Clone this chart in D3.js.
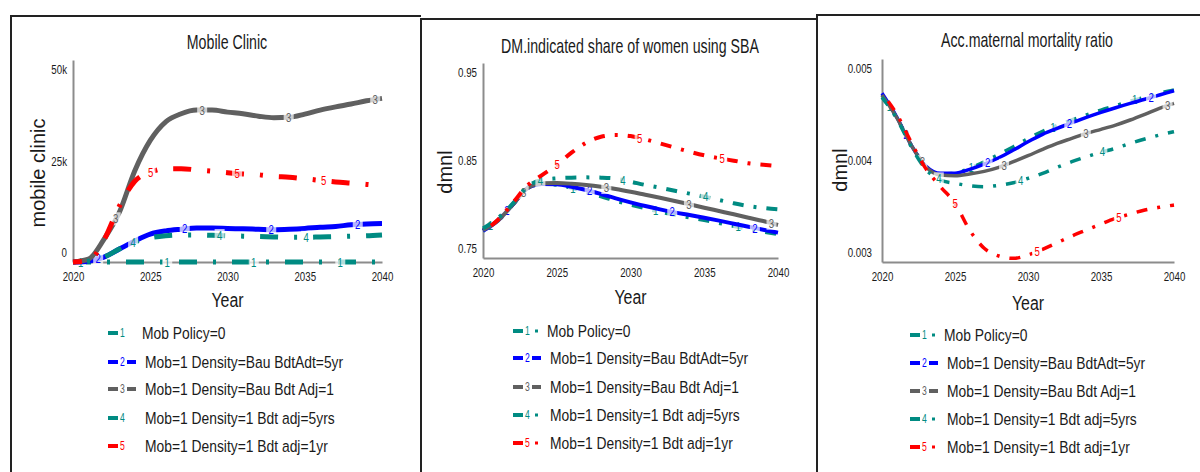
<!DOCTYPE html>
<html>
<head>
<meta charset="utf-8">
<script src="https://cdn.jsdelivr.net/npm/d3@7"></script>
<style>
  body { margin: 0; background: #fff; }
  svg { display: block; font-family: "Liberation Sans", Arial, sans-serif; }
</style>
</head>
<body>
<svg id="chart" width="1200" height="472"></svg>
<script>
// years on the x axis
var years = [2020, 2021, 2022, 2023, 2024, 2025, 2026, 2027, 2028, 2029, 2030,
             2031, 2032, 2033, 2034, 2035, 2036, 2037, 2038, 2039, 2040];
var yearTicks = [2020, 2025, 2030, 2035, 2040];

var legendLabels = ["Mob Policy=0", "Mob=1 Density=Bau BdtAdt=5yr", "Mob=1 Density=Bau Bdt Adj=1",
                    "Mob=1 Density=1 Bdt adj=5yrs", "Mob=1 Density=1 Bdt adj=1yr"];
var seriesColors = ["#008b82", "#0000ff", "#606060", "#008b82", "#ff0000"];

// Mobile Clinic
var clinic1 = [0, 0, 0, 0, 0, 0, 0, 0, 0, 0, 0, 0, 0, 0, 0, 0, 0, 0, 0, 0, 0];
var clinic2 = [0, 200, 1200, 3200, 5200, 6900, 7700, 8100, 8400, 8400, 8300,
               8200, 8100, 8000, 8100, 8300, 8600, 8800, 9200, 9400, 9500];
var clinic3 = [0, 700, 5600, 12300, 22600, 30100, 34700, 36700, 37600, 37600, 37100,
               36700, 36100, 35700, 35800, 36600, 37600, 38400, 39100, 39900, 40500];
var clinic4 = [0, 200, 1200, 3200, 5000, 6000, 6500, 6700, 6700, 6600, 6500,
               6400, 6300, 6200, 6100, 6100, 6200, 6300, 6400, 6500, 6700];
var clinic5 = [0, 300, 5400, 13800, 20000, 22200, 23100, 23100, 22800, 22500, 22100,
               21800, 21600, 21200, 21000, 20600, 20200, 19800, 19500, 19200, 18800];

// DM.indicated share of women using SBA
var sba1 = [0.7780, 0.7883, 0.8044, 0.8215, 0.8259, 0.8252, 0.8221, 0.8174, 0.8133, 0.8088, 0.8047,
            0.8010, 0.7975, 0.7944, 0.7917, 0.7890, 0.7859, 0.7828, 0.7797, 0.7770, 0.7746];
var sba2 = [0.7780, 0.7883, 0.8044, 0.8215, 0.8259, 0.8256, 0.8231, 0.8197, 0.8156, 0.8112, 0.8071,
            0.8033, 0.7999, 0.7968, 0.7941, 0.7913, 0.7883, 0.7852, 0.7821, 0.7790, 0.7760];
var sba3 = [0.7787, 0.7883, 0.8044, 0.8215, 0.8266, 0.8269, 0.8262, 0.8249, 0.8231, 0.8208, 0.8180,
            0.8149, 0.8118, 0.8085, 0.8051, 0.8016, 0.7982, 0.7948, 0.7913, 0.7879, 0.7838];
var sba4 = [0.7804, 0.7907, 0.8054, 0.8231, 0.8300, 0.8317, 0.8324, 0.8327, 0.8324, 0.8314, 0.8283,
            0.8249, 0.8221, 0.8190, 0.8160, 0.8129, 0.8095, 0.8061, 0.8033, 0.8013, 0.7999];
var sba5 = [0.7770, 0.7890, 0.8061, 0.8242, 0.8351, 0.8454, 0.8580, 0.8683, 0.8744, 0.8762, 0.8751,
            0.8717, 0.8676, 0.8632, 0.8590, 0.8553, 0.8523, 0.8498, 0.8471, 0.8457, 0.8444];

// Acc.maternal mortality ratio
var mmr1 = [0.004645, 0.004425, 0.004152, 0.003939, 0.003867, 0.003874, 0.003923, 0.003988, 0.004061, 0.004136, 0.004215,
            0.004287, 0.004346, 0.004399, 0.004448, 0.004497, 0.004540, 0.004586, 0.004622, 0.004662, 0.004694];
var mmr2 = [0.004662, 0.004431, 0.004152, 0.003946, 0.003874, 0.003874, 0.003913, 0.003965, 0.004027, 0.004103, 0.004185,
            0.004258, 0.004317, 0.004372, 0.004425, 0.004474, 0.004520, 0.004563, 0.004603, 0.004645, 0.004687];
var mmr3 = [0.004645, 0.004425, 0.004152, 0.003939, 0.003857, 0.003850, 0.003867, 0.003893, 0.003933, 0.003988, 0.004047,
            0.004110, 0.004169, 0.004218, 0.004267, 0.004307, 0.004349, 0.004399, 0.004455, 0.004514, 0.004563];
var mmr4 = [0.004622, 0.004415, 0.004136, 0.003913, 0.003808, 0.003775, 0.003752, 0.003742, 0.003755, 0.003781, 0.003824,
            0.003874, 0.003933, 0.003988, 0.004037, 0.004081, 0.004120, 0.004169, 0.004212, 0.004251, 0.004284];
var mmr5 = [0.004662, 0.004460, 0.004180, 0.003920, 0.003742, 0.003578, 0.003315, 0.003135, 0.003059, 0.003036, 0.003069,
            0.003125, 0.003190, 0.003256, 0.003315, 0.003374, 0.003430, 0.003473, 0.003512, 0.003539, 0.003561];

var clinicTicks = [0, 25000, 50000], clinicTickLabels = ["0", "25k", "50k"];
var sbaTicks = [0.75, 0.85, 0.95], sbaTickLabels = ["0.75", "0.85", "0.95"];
var mmrTicks = [0.003, 0.004, 0.005], mmrTickLabels = ["0.003", "0.004", "0.005"];

var svg = d3.select("#chart");

// condensed text, the way the source tool renders it
function ctext(g, x, y, str, size, sx, anchor, color) {
    return g.append("text")
        .attr("transform", "translate(" + x + "," + y + ") scale(" + sx + ",1)")
        .attr("text-anchor", anchor)
        .attr("font-size", size)
        .attr("fill", color || "#1a1a1a")
        .text(str);
}

function interp(vals, yr) {
    var i = Math.min(Math.floor(yr - years[0]), vals.length - 2);
    var t = yr - years[i];
    return vals[i] + (vals[i + 1] - vals[i]) * t;
}

var tickScale = 0.72;

var panels = [
    { title: "Mobile Clinic", ytitle: "mobile clinic", series: [clinic1, clinic2, clinic3, clinic4, clinic5],
      ticks: clinicTicks, tickLabels: clinicTickLabels,
      x0: 73, x1: 382, yTop: 60, yBot: 262, gap: 6, lw: 5, dash: [18, 16, 3, 16],
      titleY: 49, titleX: 227, yTitleX: 45, yTitleY: 173, yearY: 307,
      frame: [11, 16, 421], legX: 108, legY: [333, 362, 389, 418, 446], legDot: false },
    { title: "DM.indicated share of women using SBA", ytitle: "dmnl", series: [sba1, sba2, sba3, sba4, sba5],
      ticks: sbaTicks, tickLabels: sbaTickLabels,
      x0: 483, x1: 778, yTop: 63, yBot: 258, gap: 6, lw: 4, dash: [11, 10, 3, 10],
      titleY: 53, titleX: 630, yTitleX: 452, yTitleY: 172, yearY: 304,
      frame: [421, 19, 817], legX: 513, legY: [331, 358, 387, 415, 443], legDot: true },
    { title: "Acc.maternal mortality ratio", ytitle: "dmnl", series: [mmr1, mmr2, mmr3, mmr4, mmr5],
      ticks: mmrTicks, tickLabels: mmrTickLabels,
      x0: 882, x1: 1174, yTop: 59, yBot: 262, gap: 10, lw: 3.5, dash: [11, 10, 3, 10],
      titleY: 47, titleX: 1027, yTitleX: 847, yTitleY: 170, yearY: 310,
      frame: [817, 15, 1200], legX: 910, legY: [335, 363, 391, 419, 447], legDot: true }
];

panels.forEach(function(p) {
    var g = svg.append("g");

    // frame (only top and left edges are in view)
    g.append("path")
        .attr("d", "M" + p.frame[0] + ",472V" + p.frame[1] + "H" + p.frame[2])
        .attr("fill", "none").attr("stroke", "#222").attr("stroke-width", 2);

    var x = d3.scaleLinear().domain([years[0], years[years.length - 1]]).range([p.x0, p.x1]);
    var y = d3.scaleLinear().domain([p.ticks[0], p.ticks[2]]).range([p.yBot, p.yTop]);

    var yAxis = g.append("g").attr("transform", "translate(" + p.x0 + ",0)")
        .call(d3.axisLeft(y).tickValues(p.ticks).tickSize(0).tickSizeOuter(0)
              .tickPadding(p.gap / tickScale)
              .tickFormat(function(d, i) { return p.tickLabels[i]; }));
    var xAxis = g.append("g").attr("transform", "translate(0," + p.yBot + ")")
        .call(d3.axisBottom(x).tickValues(yearTicks).tickSize(0).tickSizeOuter(0)
              .tickPadding(9).tickFormat(d3.format("d")));

    [yAxis, xAxis].forEach(function(a) {
        a.select(".domain").attr("stroke", "#8c8c8c").attr("stroke-width", 2);
        a.selectAll("text").attr("font-size", 13.5).attr("fill", "#1a1a1a")
            .attr("font-family", "Liberation Sans, Arial, sans-serif")
            .attr("transform", "scale(" + tickScale + ",1)");
    });
    // top label sits below its tick, bottom label above
    yAxis.selectAll("text").attr("dy", function(d, i) {
        return i == 0 ? "-0.4em" : (i == 2 ? "1.0em" : "0.32em");
    });

    ctext(g, p.titleX, p.titleY, p.title, 20, 0.71, "middle");
    ctext(g, (p.x0 + p.x1) / 2, p.yearY, "Year", 21, 0.76, "middle");
    g.append("text")
        .attr("transform", "translate(" + p.yTitleX + "," + p.yTitleY + ") rotate(-90)")
        .attr("text-anchor", "middle").attr("font-size", 20).attr("fill", "#1a1a1a")
        .text(p.ytitle);

    var line = d3.line()
        .x(function(d, i) { return x(years[i]); })
        .y(function(d) { return y(d); })
        .curve(d3.curveMonotoneX);

    p.series.forEach(function(vals, k) {
        var dashed = (k == 0 || k == 3 || k == 4);
        g.append("path")
            .attr("d", line(vals))
            .attr("fill", "none")
            .attr("stroke", seriesColors[k])
            .attr("stroke-width", p.lw)
            .attr("stroke-dasharray", dashed ? p.dash.join(",") : null)
            .attr("stroke-dashoffset", dashed ? -k * 11 : null);

        // numbered markers along the line
        for (var j = 0; j < 4; j++) {
            var f = 0.025 + k * 0.0565 + j * 0.28;
            if (f > 1.0) break;
            var yr = years[0] + f * 20;
            var px = x(yr), py = y(interp(vals, yr));
            g.append("rect")
                .attr("x", px - 5).attr("y", py - 6.5)
                .attr("width", 10).attr("height", 13)
                .attr("fill", "#fff").attr("opacity", 0.7);
            ctext(g, px, py + 4.5, String(k + 1), 13, 0.74, "middle", seriesColors[k]);
        }
    });

    // legend
    p.series.forEach(function(vals, k) {
        var ly = p.legY[k], sx = p.legX;
        var dashed = (k == 0 || k == 3 || k == 4);
        g.append("rect").attr("x", sx).attr("y", ly - 2).attr("width", 10).attr("height", 4)
            .attr("fill", seriesColors[k]);
        ctext(g, sx + 14.5, ly + 4, String(k + 1), 12, 0.72, "middle", seriesColors[k]);
        if (!dashed) {
            g.append("rect").attr("x", sx + 19).attr("y", ly - 2).attr("width", 9).attr("height", 4)
                .attr("fill", seriesColors[k]);
        } else if (p.legDot) {
            g.append("rect").attr("x", sx + 22).attr("y", ly - 1.5).attr("width", 3).attr("height", 3)
                .attr("fill", seriesColors[k]);
        }
        ctext(g, sx + (k == 0 ? 34 : 37), ly + 6, legendLabels[k], 16.5, 0.84, "start");
    });
});
</script>
</body>
</html>
